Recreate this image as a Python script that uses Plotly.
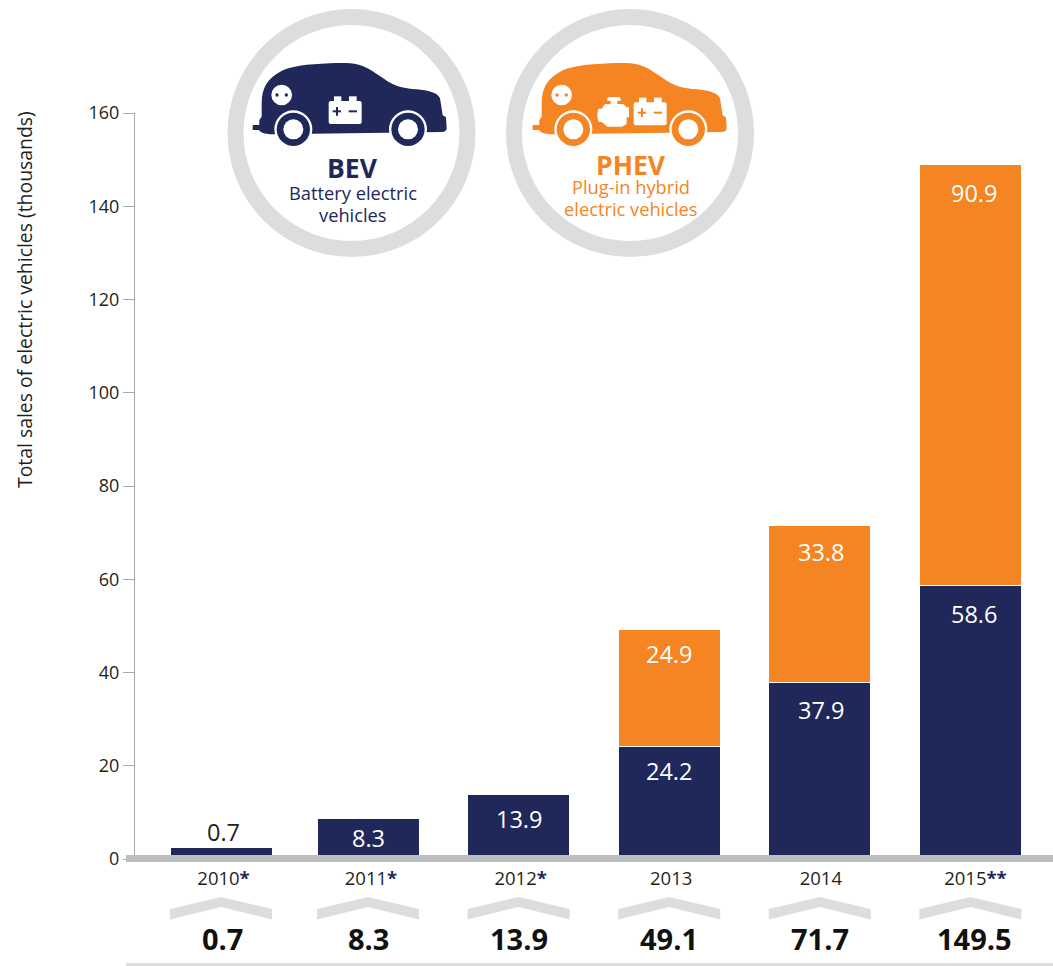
import re
import plotly.graph_objects as go

YEARS = ["2010", "2011", "2012", "2013", "2014", "2015"]
YEAR_MARKS = ["*", "*", "*", "", "", "**"]
# bar heights as drawn in the picture
BEV = [2.4, 8.6, 13.8, 24.2, 37.8, 58.6]
PHEV = [0, 0, 0, 25.1, 33.8, 90.3]
# numbers as printed in the picture
BEV_LABELS = ["0.7", "8.3", "13.9", "24.2", "37.9", "58.6"]
PHEV_LABELS = ["", "", "", "24.9", "33.8", "90.9"]
TOTALS = ["0.7", "8.3", "13.9", "49.1", "71.7", "149.5"]
Y_TICKS = [0, 20, 40, 60, 80, 100, 120, 140, 160]

NAVY = "#20285a"
ORANGE = "#f58423"
BAND = "#bcbec0"
PALE = "#dcddde"
INK = "#231f20"
FONT = "Open Sans"

W, H = 1053, 966
LEFT, TOP, BOTTOM = 126, 113, 859      # plot area in window pixels
PW, PH = W - LEFT, BOTTOM - TOP

def px(x):
    return (x - LEFT) / PW

def py(y):
    return 1 - (y - TOP) / PH

NUDGE = [0.024, 0, 0, 0, 0, 0]
SLOTS = [i + n for i, n in enumerate(NUDGE)]
SPACING = 150.6
FIRST = 217.4
X_RANGE = [-(FIRST - LEFT) / SPACING, (W - FIRST) / SPACING]
BAR_W = 102 / SPACING

# small horizontal offsets of printed text relative to its bar, in pixels
LABEL_DX = [2, 0, 0, 0, 1, 4]
TOTAL_DX = [1, 0, 0, 0, 0, 4]
TICK_DX = [2.5, 3, 2, 2, 1, 5]

fig = go.Figure()
fig.add_bar(x=SLOTS, y=BEV, width=BAR_W, name="BEV",
            marker=dict(color=NAVY, line=dict(color="white", width=1)))
fig.add_bar(x=SLOTS, y=PHEV, width=BAR_W, name="PHEV",
            marker=dict(color=ORANGE, line=dict(color="white", width=1)))

ann = []
def text(xv, yv, t, size, color, xref="x", yref="y", yshift=0, xshift=0, **kw):
    ann.append(dict(x=xv, y=yv, text=t, xref=xref, yref=yref, yshift=yshift, xshift=xshift,
                    showarrow=False, xanchor="center", yanchor="middle",
                    font=dict(family=FONT, size=size, color=color), **kw))

BEV_SHIFT = [16, -19, -24, -25, -27, -28]
for i, (s, v, sh, lab) in enumerate(zip(SLOTS, BEV, BEV_SHIFT, BEV_LABELS)):
    text(s, v, lab, 23.5, INK if i == 0 else "white", yshift=sh, xshift=LABEL_DX[i])
PHEV_SHIFT = [0, 0, 0, -25, -27, -28]
for i, (s, b, p, sh, lab) in enumerate(zip(SLOTS, BEV, PHEV, PHEV_SHIFT, PHEV_LABELS)):
    if lab:
        text(s, b + p, lab, 23.5, "white", yshift=sh, xshift=LABEL_DX[i])

for i, (s, t) in enumerate(zip(SLOTS, TOTALS)):
    text(s, py(938), f"<b>{t}</b>", 29, "#111111", yref="paper", xshift=TOTAL_DX[i])

text(px(24), py(300), "Total sales of electric vehicles (thousands)", 19.4, INK,
     xref="paper", yref="paper", textangle=-90)

shapes = []
# thick baseline band
shapes.append(dict(type="rect", xref="paper", yref="paper", x0=0, x1=1,
                   y0=py(862), y1=py(855), fillcolor=BAND, line=dict(width=0)))
# chevrons
HALF = 51 / SPACING
for s in SLOTS:
    p = (f"M {s-HALF},{py(909)} L {s},{py(897)} L {s+HALF},{py(909)} "
         f"L {s+HALF},{py(919.5)} L {s},{py(907)} L {s-HALF},{py(919.5)} Z")
    shapes.append(dict(type="path", path=p, xref="x", yref="paper",
                       fillcolor=PALE, line=dict(width=0)))
# bottom rule
shapes.append(dict(type="rect", xref="paper", yref="paper", x0=0, x1=1,
                   y0=py(966), y1=py(963), fillcolor=PALE, line=dict(width=0)))

def conv(path, ox, oy):
    """zoom-crop coordinates (3x) -> paper coordinates"""
    toks = re.findall(r"[MLCQZ]|-?\d+\.?\d*", path)
    out, isx = [], True
    for t in toks:
        if t in "MLCQZ":
            out.append(t); isx = True
        else:
            v = float(t) / 3
            out.append(str(px(v + ox)) if isx else str(py(v + oy)))
            isx = not isx
    return " ".join(out)

def pshape(path, ox, oy, fill):
    shapes.append(dict(type="path", path=conv(path, ox, oy), xref="paper", yref="paper",
                       fillcolor=fill, line=dict(width=0)))

def dot(cx, cy, r, ox, oy, fill):
    cx, cy, r = cx / 3 + ox, cy / 3 + oy, r / 3
    shapes.append(dict(type="circle", xref="paper", yref="paper",
                       x0=px(cx - r), x1=px(cx + r), y0=py(cy + r), y1=py(cy - r),
                       fillcolor=fill, line=dict(width=0)))

def box(x0, y0, x1, y1, ox, oy, fill):
    pshape(f"M {x0},{y0} L {x1},{y0} L {x1},{y1} L {x0},{y1} Z", ox, oy, fill)

def rbox(x0, y0, x1, y1, r, ox, oy, fill):
    pshape(f"M {x0+r},{y0} L {x1-r},{y0} Q {x1},{y0} {x1},{y0+r} L {x1},{y1-r} Q {x1},{y1} {x1-r},{y1} "
           f"L {x0+r},{y1} Q {x0},{y1} {x0},{y1-r} L {x0},{y0+r} Q {x0},{y0} {x0+r},{y0} Z", ox, oy, fill)

CAR = ("M 118,392 L 118,360 L 125,350 L 125,310 C 125,262 145,235 178,217 "
       "C 208,198 262,193 330,190 C 392,187 420,190 452,210 L 492,236 "
       "C 520,258 550,265 590,268 C 625,272 650,276 660,295 L 668,346 L 678,352 "
       "L 680,385 C 680,392 675,396 665,396 L 165,403 C 140,403 125,399 118,392 Z")

def ring(cx, cy):
    r = 116
    shapes.append(dict(type="circle", xref="paper", yref="paper",
                       x0=px(cx - r), x1=px(cx + r), y0=py(cy + r), y1=py(cy - r),
                       fillcolor="white", line=dict(color=PALE, width=16)))

def car(ox, oy, fill, wheels, dx):
    pshape(CAR, ox + dx / 3, oy, fill)
    box(98 + dx, 375, 120 + dx, 390, ox, oy, fill)
    for wx in wheels:
        dot(wx, 388, 57, ox, oy, "white")
        dot(wx, 388, 50, ox, oy, fill)
        dot(wx, 388, 30, ox, oy, "white")
    dot(185 + dx, 285, 31, ox, oy, "white")
    dot(171 + dx, 285, 5, ox, oy, fill)
    dot(199 + dx, 285, 5, ox, oy, fill)

def battery(x, y, ox, oy, fill):
    box(x + 16, y - 14, x + 38, y + 3, ox, oy, "white")
    box(x + 61, y - 14, x + 84, y + 3, ox, oy, "white")
    rbox(x, y, x + 99, y + 69, 6, ox, oy, "white")
    box(x + 12, y + 28, x + 37, y + 34, ox, oy, fill)
    box(x + 22, y + 18, x + 28, y + 44, ox, oy, fill)
    box(x + 60, y + 28, x + 85, y + 34, ox, oy, fill)

ring(351.5, 133)
car(220, 0, NAVY, [220, 564], 0)
battery(326, 303, 220, 0, NAVY)

ring(630, 133)
car(490, 0, ORANGE, [250, 595], 30)
battery(431, 307, 490, 0, ORANGE)
ENGINE = ("M 352,298 Q 352,291 360,291 L 384,291 Q 392,291 392,298 L 392,302 L 382,302 L 382,312 "
          "L 400,312 L 410,322 L 417,322 L 417,352 L 410,352 L 410,372 L 396,380 L 352,380 L 335,366 "
          "L 326,366 Q 318,345 326,326 L 335,326 L 345,312 L 362,312 L 362,302 L 352,302 Z")
pshape(ENGINE, 490, 0, "white")

text(px(352), py(168), "<b>BEV</b>", 26.5, NAVY, xref="paper", yref="paper")
text(px(352.5), py(193), "Battery electric", 18.3, NAVY, xref="paper", yref="paper")
text(px(352.5), py(214), "vehicles", 18.3, NAVY, xref="paper", yref="paper")
text(px(630.5), py(165), "<b>PHEV</b>", 26.5, ORANGE, xref="paper", yref="paper")
text(px(631), py(187), "Plug-in hybrid", 18.3, ORANGE, xref="paper", yref="paper")
text(px(631), py(208), "electric vehicles", 18.3, ORANGE, xref="paper", yref="paper")

ticktext = [y + (f'<span style="color:{NAVY}"><b>{m}</b></span>' if m else "")
            for y, m in zip(YEARS, YEAR_MARKS)]
tickvals = [s + d / SPACING for s, d in zip(SLOTS, TICK_DX)]

fig.update_layout(
    width=W, height=H, barmode="stack", showlegend=False,
    margin=dict(l=LEFT, r=0, t=TOP, b=H - BOTTOM, autoexpand=False),
    paper_bgcolor="white", plot_bgcolor="white",
    font=dict(family=FONT, color=INK, size=18),
    shapes=shapes, annotations=ann,
    xaxis=dict(range=X_RANGE, tickmode="array", tickvals=tickvals, ticktext=ticktext,
               showgrid=False, zeroline=False, showline=False,
               ticks="", tickfont=dict(family=FONT, size=18.5, color=INK),
               ticklabelstandoff=6),
    yaxis=dict(range=[0, 160], tickmode="array", tickvals=Y_TICKS, showgrid=False,
               zeroline=False, showline=True, linecolor="#a7a9ac", linewidth=1,
               anchor="free", position=8 / PW, ticks="outside", ticklen=11,
               tickcolor="#a7a9ac", tickwidth=1,
               tickfont=dict(family=FONT, size=18, color=INK)),
)
fig.write_html("out.html", config={"displayModeBar": False},
               post_script="document.body.style.margin='0';")
